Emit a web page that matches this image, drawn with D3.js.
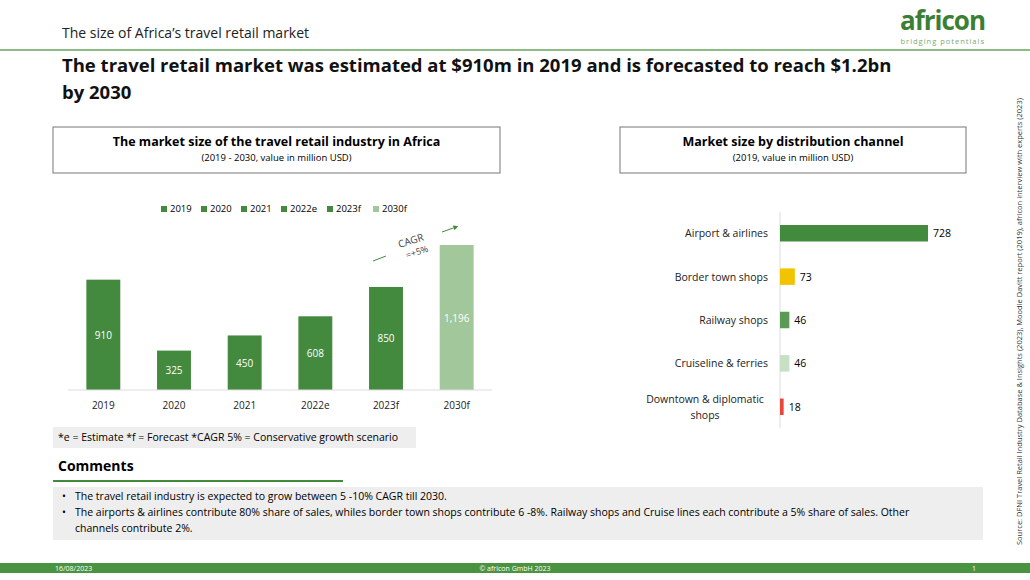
<!DOCTYPE html>
<html><head><meta charset="utf-8">
<script src="https://cdn.jsdelivr.net/npm/d3@7"></script>
<style>body{margin:0;background:#fff;font-family:Calibri,Carlito,"Open Sans",sans-serif;}</style>
</head><body><div id="chart"></div>
<script>
const years = ["2019", "2020", "2021", "2022e", "2023f", "2030f"];
const marketValues = [910, 325, 450, 608, 850, 1196];
const channels = ["Airport & airlines", "Border town shops", "Railway  shops", "Cruiseline & ferries", "Downtown & diplomatic shops"];
const channelValues = [728, 73, 46, 46, 18];
const channelColors = ["#428a3c", "#f2c300", "#5b9a55", "#c5e0c2", "#e8473a"];
const fnt = "'Open Sans', sans-serif";

const svg = d3.select("#chart").append("svg").attr("width", 1030).attr("height", 580)
    .style("font-family", fnt);

// header
svg.append("text").attr("x", 62).attr("y", 38).attr("font-size", 14).attr("fill", "#222")
    .text("The size of Africa\u2019s travel retail market");
svg.append("line").attr("x1", 0).attr("x2", 1030).attr("y1", 50).attr("y2", 50)
    .attr("stroke", "#8dbb84").attr("stroke-width", 2);
svg.append("text").attr("x", 985).attr("y", 30).attr("text-anchor", "end").attr("font-size", 26)
    .attr("font-weight", "bold").attr("fill", "#3b7f35").attr("letter-spacing", -1).text("africon");
svg.append("text").attr("x", 985).attr("y", 44).attr("text-anchor", "end").attr("font-size", 7.5)
    .attr("fill", "#7aa874").attr("letter-spacing", 1).text("bridging potentials");
svg.append("text").attr("x", 62).attr("y", 72).attr("font-size", 18.5).attr("font-weight", "bold").attr("fill", "#111")
    .text("The travel retail market was estimated at $910m in 2019 and is forecasted to reach $1.2bn");
svg.append("text").attr("x", 62).attr("y", 99).attr("font-size", 18.5).attr("font-weight", "bold").attr("fill", "#111")
    .text("by 2030");
svg.append("text").attr("transform", "translate(1022,545) rotate(-90)").attr("font-size", 7.5).attr("fill", "#333")
    .text("Source: DFNI Travel Retail Industry Database & Insights (2023), Moodie Davitt report (2019), africon interview with experts (2023)");

// title boxes
function titleBox(x, w, t1, t2) {
    svg.append("rect").attr("x", x).attr("y", 127).attr("width", w).attr("height", 46)
        .attr("fill", "#fff").attr("stroke", "#777");
    svg.append("text").attr("x", x + w / 2).attr("y", 146).attr("text-anchor", "middle")
        .attr("font-size", 12.5).attr("font-weight", "bold").text(t1);
    svg.append("text").attr("x", x + w / 2).attr("y", 161).attr("text-anchor", "middle")
        .attr("font-size", 9.5).text(t2);
}
titleBox(53, 447, "The market size of the travel retail industry in Africa", "(2019 - 2030, value in million USD)");
titleBox(620, 346, "Market size by distribution channel", "(2019,  value in million USD)");

// left bar chart
const x = d3.scaleBand().domain(years).range([68, 492]).paddingInner(0.52).paddingOuter(0.26);
const y = d3.scaleLinear().domain([0, 1196]).range([390, 245]);
const colorOf = (d, i) => i === 5 ? "#a2c79a" : "#448a3e";
svg.selectAll(".bar").data(marketValues).enter().append("rect")
    .attr("x", (d, i) => x(years[i])).attr("y", d => y(d))
    .attr("width", x.bandwidth()).attr("height", d => 390 - y(d)).attr("fill", colorOf);
svg.selectAll(".lab").data(marketValues).enter().append("text")
    .attr("x", (d, i) => x(years[i]) + x.bandwidth() / 2).attr("y", d => (y(d) + 390) / 2 + 4)
    .attr("text-anchor", "middle").attr("font-size", 10).attr("fill", "#fff")
    .text(d => d3.format(",")(d));
const xAxis = svg.append("g").attr("transform", "translate(0,390)")
    .call(d3.axisBottom(x).tickSize(0).tickPadding(12));
xAxis.select(".domain").attr("stroke", "#ddd").attr("d", "M68,0H492");
xAxis.selectAll("text").attr("font-size", 10).attr("font-family", fnt).attr("fill", "#222");

// legend
const lg = svg.append("g").selectAll("g").data(years).enter().append("g")
    .attr("transform", (d, i) => "translate(" + [161, 201, 241, 281, 327, 373][i] + ",212)");
lg.append("rect").attr("x", 0).attr("y", -6).attr("width", 6).attr("height", 6)
    .attr("fill", (d, i) => colorOf(d, i));
lg.append("text").attr("x", 9).attr("y", 0).attr("font-size", 9.5).text(d => d);

// CAGR annotation
svg.append("line").attr("x1", 373).attr("y1", 261).attr("x2", 386).attr("y2", 256).attr("stroke", "#448a3e");
svg.append("line").attr("x1", 442).attr("y1", 232).attr("x2", 456).attr("y2", 227).attr("stroke", "#448a3e")
    .attr("marker-end", "url(#arr)");
svg.append("defs").append("marker").attr("id", "arr").attr("viewBox", "0 0 10 10").attr("refX", 5).attr("refY", 5)
    .attr("markerWidth", 5).attr("markerHeight", 5).attr("orient", "auto")
    .append("path").attr("d", "M0,0L10,5L0,10z").attr("fill", "#448a3e");
svg.append("text").attr("transform", "translate(412,244) rotate(-18)").attr("text-anchor", "middle")
    .attr("font-size", 10).attr("fill", "#444").text("CAGR");
svg.append("text").attr("transform", "translate(418,255) rotate(-18)").attr("text-anchor", "middle")
    .attr("font-size", 9).attr("fill", "#444").text("=+5%");

// footnote
svg.append("rect").attr("x", 53).attr("y", 427).attr("width", 363).attr("height", 21).attr("fill", "#eeeeee");
svg.append("text").attr("x", 58).attr("y", 441).attr("font-size", 10.5)
    .text("*e = Estimate  *f = Forecast  *CAGR 5% = Conservative growth scenario");

// right bar chart
const yc = d3.scaleBand().domain(channels).range([212, 428]).paddingInner(0.62).paddingOuter(0.3);
const xc = d3.scaleLinear().domain([0, 728]).range([780, 928]);
svg.append("line").attr("x1", 780).attr("x2", 780).attr("y1", 212).attr("y2", 428).attr("stroke", "#ddd");
svg.selectAll(".cbar").data(channelValues).enter().append("rect")
    .attr("x", 780).attr("y", (d, i) => yc(channels[i])).attr("width", d => xc(d) - 780)
    .attr("height", yc.bandwidth()).attr("fill", (d, i) => channelColors[i]);
svg.selectAll(".clab").data(channelValues).enter().append("text")
    .attr("x", d => xc(d) + 5).attr("y", (d, i) => yc(channels[i]) + yc.bandwidth() / 2 + 4)
    .attr("font-size", 10.5).text(d => d);
svg.selectAll(".ccat").data(channels).enter().append("text")
    .attr("x", 768).attr("y", d => yc(d) + yc.bandwidth() / 2 + 4).attr("text-anchor", "end")
    .attr("font-size", 10.5).attr("fill", "#222")
    .each(function(d) {
        const t = d3.select(this);
        if (d.startsWith("Downtown")) {
            t.append("tspan").attr("x", 705).attr("text-anchor", "middle").attr("dy", -8).text("Downtown & diplomatic");
            t.append("tspan").attr("x", 705).attr("text-anchor", "middle").attr("dy", 16).text("shops");
        } else t.text(d);
    });

// comments
svg.append("text").attr("x", 58).attr("y", 471).attr("font-size", 14).attr("font-weight", "bold").text("Comments");
svg.append("line").attr("x1", 53).attr("x2", 343).attr("y1", 481).attr("y2", 481).attr("stroke", "#428a3c").attr("stroke-width", 2);
svg.append("rect").attr("x", 53).attr("y", 487).attr("width", 930).attr("height", 53).attr("fill", "#eeeeee");
const cm = [["\u2022", 62, 500, "The travel retail industry is expected to grow between 5 -10% CAGR till 2030."],
    ["\u2022", 62, 516, "The airports & airlines contribute 80% share of sales, whiles border town shops contribute 6 -8%. Railway shops and Cruise lines each contribute a 5% share of sales. Other"],
    ["", 62, 532, "channels contribute 2%."]];
cm.forEach(c => {
    svg.append("text").attr("x", c[1]).attr("y", c[2]).attr("font-size", 10.5).text(c[0]);
    svg.append("text").attr("x", c[1] + 13).attr("y", c[2]).attr("font-size", 10.5).text(c[3]);
});

// footer
svg.append("rect").attr("x", 0).attr("y", 563).attr("width", 1030).attr("height", 10).attr("fill", "#4a9341");
svg.append("text").attr("x", 55).attr("y", 571).attr("font-size", 7).attr("fill", "#fff").text("16/08/2023");
svg.append("text").attr("x", 515).attr("y", 571).attr("font-size", 7).attr("fill", "#fff").attr("text-anchor", "middle").text("\u00a9 africon GmbH 2023");
svg.append("text").attr("x", 972).attr("y", 571).attr("font-size", 7).attr("fill", "#fff").text("1");
</script></body></html>
